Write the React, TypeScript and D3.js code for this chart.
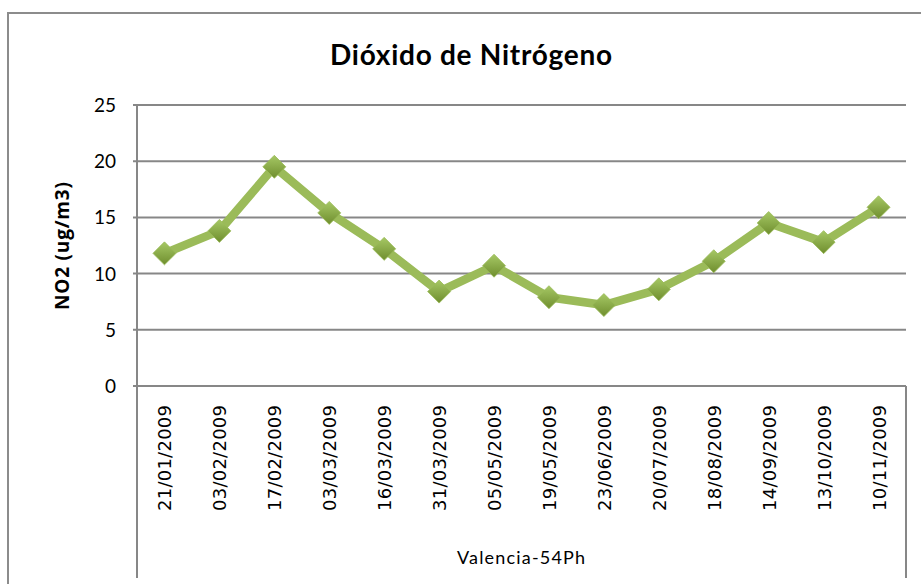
import React from "react";
import * as d3 from "d3";

const categories = ["21/01/2009","03/02/2009","17/02/2009","03/03/2009","16/03/2009","31/03/2009","05/05/2009","19/05/2009","23/06/2009","20/07/2009","18/08/2009","14/09/2009","13/10/2009","10/11/2009"];
const values = [11.8, 13.8, 19.5, 15.4, 12.2, 8.4, 10.7, 7.9, 7.2, 8.6, 11.1, 14.5, 12.8, 15.9];
const yTicks = [0, 5, 10, 15, 20, 25];
const title = "Dióxido de Nitrógeno";
const yTitle = "NO2 (ug/m3)";
const groupLabel = "Valencia-54Ph";

export default function App() {
  const W = 921, H = 584;
  const left = 137, right = 906, top = 105, bottom = 386;
  const x = d3.scaleBand<string>().domain(categories).range([left, right]);
  const y = d3.scaleLinear().domain([0, 25]).range([bottom, top]);
  const line = d3.line<number>()
    .x((_, i) => (x(categories[i]) as number) + x.bandwidth() / 2)
    .y((d) => y(d));
  const grid = "#878787";
  const m = 11.5;
  return (
    <svg width={W} height={H} style={{ position: "absolute", left: 0, top: 0 }}>
      <defs>
        <linearGradient id="mk" x1="0" y1="0" x2="0" y2="1">
          <stop offset="0" stopColor="#a6c865" />
          <stop offset="1" stopColor="#6f8e2e" />
        </linearGradient>
      </defs>
      <rect x={0} y={0} width={W} height={H} fill="#fff" />
      <rect x={8} y={13} width={930} height={620} fill="none" stroke="#8c8c8c" strokeWidth={2} />
      <text x={471} y={65} textAnchor="middle" fontFamily="Lato, sans-serif" fontWeight="bold" fontSize={28} textLength={282} fill="#000">{title}</text>
      {yTicks.map((t) => (
        <g key={t}>
          <line x1={left - 4} x2={right} y1={y(t)} y2={y(t)} stroke={grid} strokeWidth={2} />
          <text x={116} y={y(t) + 7} textAnchor="end" fontFamily="Lato, sans-serif" fontSize={19} fill="#000">{t}</text>
        </g>
      ))}
      <line x1={left} x2={left} y1={top} y2={578} stroke={grid} strokeWidth={2} />
      <line x1={right} x2={right} y1={bottom} y2={578} stroke={grid} strokeWidth={2} />
      {categories.map((c) => {
        const cx = (x(c) as number) + x.bandwidth() / 2;
        return (
          <text key={c} transform={`translate(${cx + 7},405) rotate(-90)`} textAnchor="end" fontFamily="'DejaVu Sans', sans-serif" fontSize={18} textLength={106} fill="#000">{c}</text>
        );
      })}
      <text x={521} y={564} textAnchor="middle" fontFamily="Lato, sans-serif" fontSize={18} textLength={128} fill="#000">{groupLabel}</text>
      <text transform="translate(69,246) rotate(-90)" textAnchor="middle" fontFamily="'Open Sans', sans-serif" fontWeight="bold" fontSize={19} textLength={128} fill="#000">{yTitle}</text>
      <path d={line(values) || ""} fill="none" stroke="#9bbb59" strokeWidth={8.5} strokeLinejoin="round" />
      {values.map((v, i) => {
        const cx = (x(categories[i]) as number) + x.bandwidth() / 2;
        const cy = y(v);
        return (
          <path key={i} d={`M${cx},${cy - m}L${cx + m},${cy}L${cx},${cy + m}L${cx - m},${cy}Z`} fill="url(#mk)" stroke="#9bbb59" strokeWidth={0.8} />
        );
      })}
    </svg>
  );
}
